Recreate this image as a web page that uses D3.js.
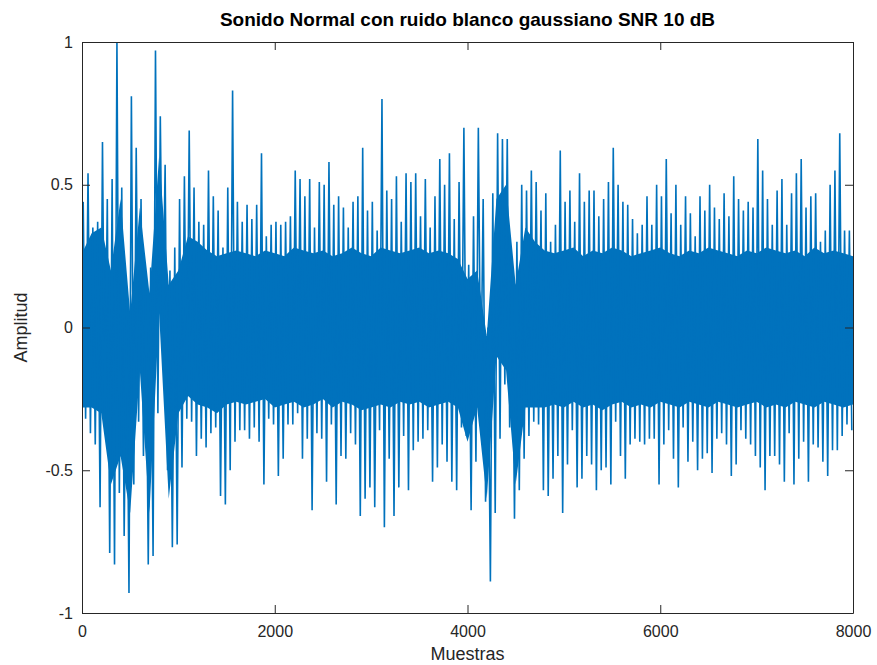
<!DOCTYPE html>
<html><head><meta charset="utf-8">
<script src="https://cdn.jsdelivr.net/npm/d3@7"></script>
<style>
body{margin:0;background:#fff}
svg{display:block}
text{font-family:"Liberation Sans",Arial,Helvetica,sans-serif;fill:#262626}
</style>
</head><body>
<svg id="chart" width="877" height="665"></svg>
<script>
// ---- data ----
const binSize = 50; // samples per envelope bin (max / min of each bin)
const maxVals = [
 0.44,0.54,0.35,0.37,0.65,0.45,0.52,1.0,0.49,0.13,0.81,0.63,0.45,0.16,0.21,0.97,0.74,0.57,0.2,0.28,
 0.45,0.53,0.69,0.49,0.37,0.36,0.55,0.46,0.41,0.28,0.49,0.83,0.44,0.37,0.43,0.38,0.43,0.61,0.32,0.36,
 0.37,0.36,0.37,0.39,0.55,0.52,0.46,0.52,0.35,0.51,0.5,0.58,0.43,0.46,0.42,0.35,0.44,0.46,0.63,0.41,0.44,
 0.34,0.80,0.48,0.45,0.53,0.37,0.54,0.51,0.54,0.39,0.52,0.35,0.46,0.59,0.5,0.61,0.38,0.51,0.70,0.22,
 0.39,0.70,0.45,0.0,0.47,0.68,0.66,0.66,0.2,0.3,0.5,0.48,0.55,0.51,0.41,0.47,0.3,0.36,0.62,0.44,0.48,
 0.37,0.54,0.44,0.48,0.48,0.39,0.45,0.51,0.63,0.5,0.44,0.43,0.38,0.33,0.36,0.46,0.36,0.5,0.46,0.59,
 0.4,0.5,0.36,0.46,0.4,0.32,0.46,0.41,0.5,0.42,0.38,0.47,0.39,0.53,0.45,0.41,0.44,0.42,0.66,0.55,
 0.45,0.36,0.48,0.52,0.36,0.47,0.54,0.59,0.42,0.46,0.47,0.3,0.34,0.5,0.55,0.68,0.34,0.34
];
const minVals = [
 -0.32,-0.37,-0.41,-0.63,-0.35,-0.79,-0.83,-0.58,-0.73,-0.93,-0.55,-0.33,-0.45,-0.83,-0.80,-0.3,-0.05,-0.5,-0.77,-0.76,
 -0.49,-0.32,-0.33,-0.45,-0.39,-0.42,-0.37,-0.35,-0.59,-0.62,-0.5,-0.4,-0.36,-0.36,-0.39,-0.35,-0.4,-0.55,-0.32,-0.34,
 -0.52,-0.46,-0.34,-0.34,-0.3,-0.46,-0.39,-0.64,-0.37,-0.39,-0.54,-0.34,-0.62,-0.45,-0.46,-0.37,-0.41,-0.66,-0.6,-0.56,-0.63,
 -0.36,-0.7,-0.46,-0.66,-0.56,-0.38,-0.57,-0.43,-0.4,-0.39,-0.36,-0.54,-0.49,-0.41,-0.47,-0.54,-0.57,-0.35,-0.38,-0.64,
 -0.47,-0.25,-0.61,-0.89,-0.65,-0.39,-0.2,-0.35,-0.67,-0.57,-0.46,-0.38,-0.33,-0.34,-0.57,-0.59,-0.53,-0.45,-0.65,-0.48,-0.36,
 -0.56,-0.53,-0.45,-0.48,-0.57,-0.5,-0.49,-0.55,-0.33,-0.45,-0.53,-0.41,-0.39,-0.4,-0.41,-0.39,-0.39,-0.55,-0.41,-0.36,
 -0.46,-0.56,-0.35,-0.47,-0.4,-0.5,-0.46,-0.44,-0.51,-0.39,-0.37,-0.41,-0.52,-0.48,-0.36,-0.39,-0.41,-0.45,-0.49,-0.57,
 -0.45,-0.45,-0.48,-0.54,-0.37,-0.55,-0.46,-0.4,-0.54,-0.41,-0.42,-0.47,-0.52,-0.43,-0.43,-0.38,-0.34,-0.36
];
const coreStep = 100; // samples between points of the dense (solid) core
const coreHi = [
 0.26,0.33,0.35,0.2,0.45,0.05,0.42,0.12,0.6,0.15,0.2,0.32,0.3,0.27,0.25,0.26,0.27,0.26,0.25,0.27,
 0.26,0.25,0.28,0.27,0.26,0.27,0.25,0.26,0.28,0.26,0.25,0.28,0.27,0.26,0.27,0.28,0.26,0.27,0.26,0.24,
 0.17,0.2,-0.03,0.45,0.5,0.15,0.35,0.3,0.27,0.26,0.27,0.28,0.25,0.27,0.26,0.28,0.27,0.25,0.26,0.27,
 0.28,0.26,0.25,0.27,0.26,0.28,0.27,0.26,0.25,0.27,0.26,0.28,0.27,0.26,0.27,0.25,0.28,0.26,0.27,0.26,0.25
];
const coreLo = [
 -0.28,-0.28,-0.3,-0.55,-0.45,-0.65,-0.15,-0.65,0.05,-0.6,-0.3,-0.24,-0.27,-0.28,-0.3,-0.27,-0.26,-0.27,-0.26,-0.25,
 -0.28,-0.27,-0.26,-0.28,-0.27,-0.25,-0.28,-0.26,-0.27,-0.29,-0.28,-0.27,-0.28,-0.26,-0.27,-0.26,-0.28,-0.27,-0.26,-0.28,
 -0.4,-0.28,-0.6,-0.1,-0.15,-0.55,-0.28,-0.28,-0.28,-0.27,-0.28,-0.26,-0.28,-0.27,-0.29,-0.27,-0.26,-0.28,-0.27,-0.28,
 -0.26,-0.27,-0.28,-0.26,-0.27,-0.28,-0.26,-0.27,-0.28,-0.27,-0.26,-0.28,-0.27,-0.28,-0.26,-0.27,-0.28,-0.26,-0.27,-0.28,-0.27
];
const xTicks = [0, 2000, 4000, 6000, 8000];
const yTicks = [-1, -0.5, 0, 0.5, 1];
const titleText = "Sonido Normal con ruido blanco gaussiano SNR 10 dB";
const xLabelText = "Muestras";
const yLabelText = "Amplitud";

// ---- layout ----
const svg = d3.select("#chart");
const L = 82, R = 853, T = 42, B = 613;
const lineColor = "#0072BD", axisColor = "#262626";

const x = d3.scaleLinear().domain([0, 8000]).range([L, R]);
const y = d3.scaleLinear().domain([-1, 1]).range([B, T]);

svg.append("rect").attr("x", L).attr("y", T).attr("width", R - L).attr("height", B - T).attr("fill", "#fff");

const sig = svg.append("g");
sig.append("clipPath").attr("id", "clip").append("rect")
  .attr("x", L).attr("y", T - 1).attr("width", R - L).attr("height", B - T + 2);

// dense core of the noisy signal
const coreData = coreHi.map((h, i) => ({ s: i * coreStep, hi: h, lo: coreLo[i] }));
sig.append("path").datum(coreData)
  .attr("clip-path", "url(#clip)")
  .attr("fill", lineColor)
  .attr("d", d3.area().x(d => x(d.s)).y0(d => y(d.lo)).y1(d => y(d.hi)));

// signal excursions: alternating bin maximum / minimum
const pts = [];
maxVals.forEach((mx, i) => {
  pts.push({ s: i * binSize + binSize * 0.25, v: mx });
  pts.push({ s: i * binSize + binSize * 0.75, v: minVals[i] });
});
sig.append("path").datum(pts)
  .attr("clip-path", "url(#clip)")
  .attr("fill", "none")
  .attr("stroke", lineColor)
  .attr("stroke-width", 1.6)
  .attr("stroke-linejoin", "bevel")
  .attr("d", d3.line().x(d => x(d.s)).y(d => y(d.v)));

// axes (ticks inward, mirrored box)
const fmt = d => String(d);
const gx = svg.append("g").attr("transform", `translate(0,${B})`)
  .call(d3.axisBottom(x).tickValues(xTicks).tickFormat(fmt).tickSizeInner(-8).tickSizeOuter(0).tickPadding(13));
const gxt = svg.append("g").attr("transform", `translate(0,${T})`)
  .call(d3.axisTop(x).tickValues(xTicks).tickFormat("").tickSizeInner(-8).tickSizeOuter(0));
const gy = svg.append("g").attr("transform", `translate(${L},0)`)
  .call(d3.axisLeft(y).tickValues(yTicks).tickFormat(fmt).tickSizeInner(-8).tickSizeOuter(0).tickPadding(9));
const gyr = svg.append("g").attr("transform", `translate(${R},0)`)
  .call(d3.axisRight(y).tickValues(yTicks).tickFormat("").tickSizeInner(-8).tickSizeOuter(0));

[gx, gxt, gy, gyr].forEach(g => {
  g.select(".domain").attr("stroke", axisColor).attr("stroke-width", 1);
  g.selectAll(".tick line").attr("stroke", axisColor).attr("stroke-width", 1);
  g.selectAll(".tick text").attr("fill", axisColor).style("font-size", "16px")
    .style("font-family", '"Liberation Sans",Arial,Helvetica,sans-serif');
});

// labels
svg.append("text").attr("x", (L + R) / 2).attr("y", 26).attr("text-anchor", "middle")
  .style("font-size", "19px").style("font-weight", "bold").style("fill", "#000").text(titleText);
svg.append("text").attr("x", (L + R) / 2).attr("y", 660).attr("text-anchor", "middle")
  .style("font-size", "18px").text(xLabelText);
svg.append("text").attr("transform", `translate(27,${(T + B) / 2}) rotate(-90)`).attr("text-anchor", "middle")
  .style("font-size", "18px").text(yLabelText);
</script>
</body></html>
